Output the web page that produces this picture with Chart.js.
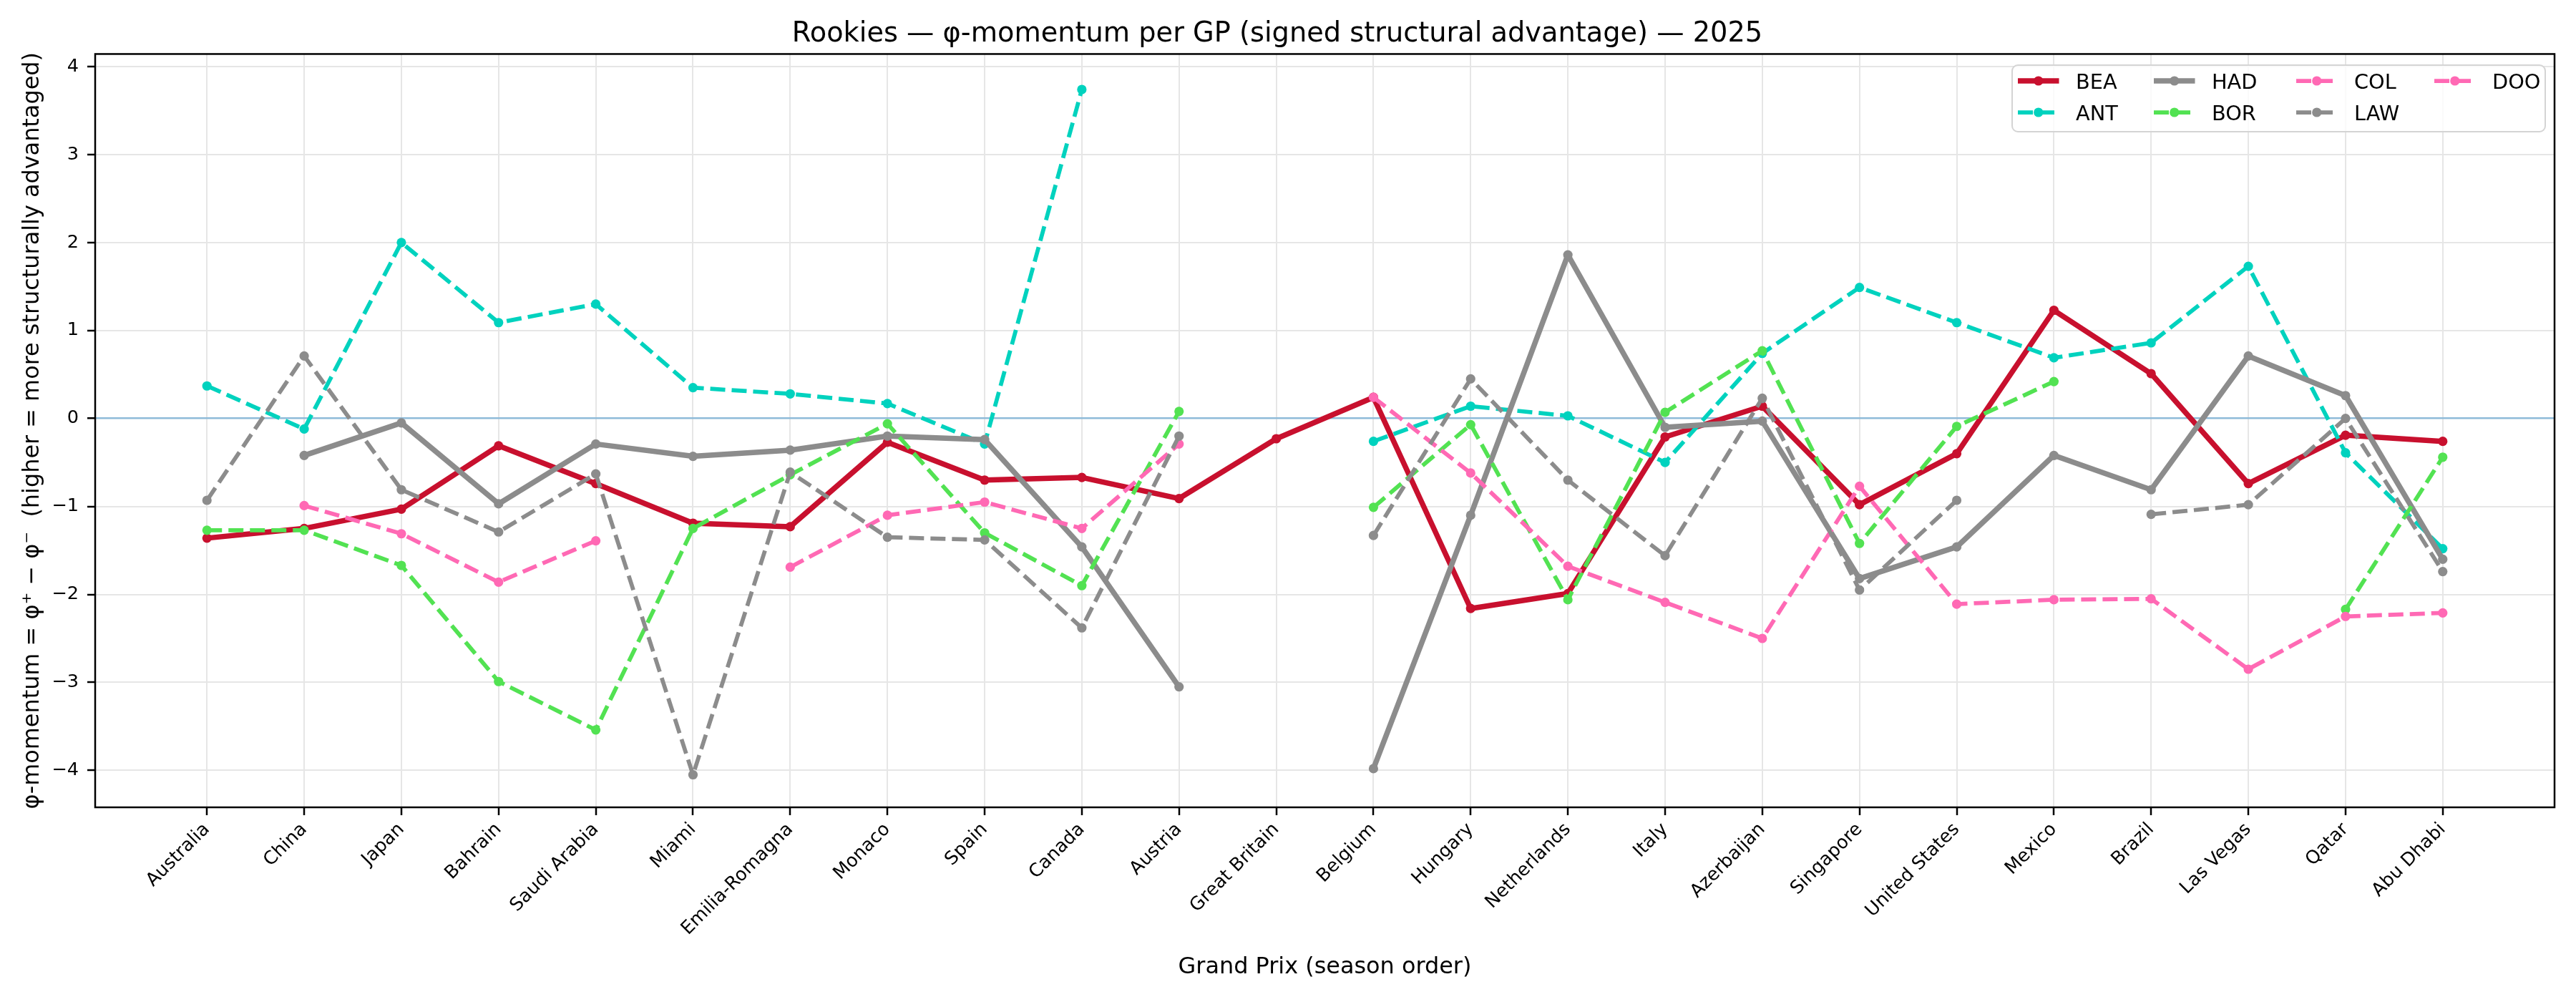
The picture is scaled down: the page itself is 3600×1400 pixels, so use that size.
<!DOCTYPE html>
<html>
<head>
<meta charset="utf-8">
<script src="https://cdn.jsdelivr.net/npm/chart.js@4.4.0/dist/chart.umd.min.js"></script>
<style>
  html, body { margin: 0; padding: 0; background: #fff; }
  #wrap { width: 3600px; height: 1400px; }
</style>
</head>
<body>
<div id="wrap"><canvas id="momentumChart" width="3600" height="1400"></canvas></div>
<script>
// Grands Prix, dans l'ordre de la saison
const grandsPrix = ["Australia", "China", "Japan", "Bahrain", "Saudi Arabia", "Miami",
  "Emilia-Romagna", "Monaco", "Spain", "Canada", "Austria", "Great Britain", "Belgium",
  "Hungary", "Netherlands", "Italy", "Azerbaijan", "Singapore", "United States", "Mexico",
  "Brazil", "Las Vegas", "Qatar", "Abu Dhabi"];

const pilotes = ["BEA", "ANT", "HAD", "BOR", "COL", "LAW", "DOO"];

// valeurs φ-momentum par GP (null = pas de course)
const BEA = [-1.36, -1.25, -1.03, -0.31, -0.74, -1.19, -1.23, -0.27, -0.70, -0.67, -0.91, -0.23,
  0.24, -2.16, -1.99, -0.21, 0.14, -0.98, -0.40, 1.23, 0.51, -0.74, -0.19, -0.26];
const ANT = [0.37, -0.12, 2.00, 1.09, 1.30, 0.35, 0.28, 0.17, -0.29, 3.74, null, null,
  -0.26, 0.14, 0.03, -0.50, 0.74, 1.49, 1.09, 0.69, 0.86, 1.73, -0.39, -1.48];
const HAD = [null, -0.42, -0.05, -0.97, -0.29, -0.43, -0.36, -0.20, -0.24, -1.46, -3.05, null,
  -3.98, -1.10, 1.86, -0.10, -0.03, -1.82, -1.46, -0.42, -0.81, 0.71, 0.26, -1.60];
const BOR = [-1.27, -1.27, -1.67, -2.99, -3.54, -1.25, -0.64, -0.06, -1.30, -1.90, 0.08, null,
  -1.01, -0.07, -2.06, 0.07, 0.77, -1.42, -0.09, 0.42, null, null, -2.17, -0.44];
const COL = [null, null, null, null, null, null, -1.69, -1.10, -0.95, -1.25, -0.29, null,
  0.24, -0.62, -1.68, -2.09, -2.50, -0.77, -2.11, -2.06, -2.05, -2.85, -2.25, -2.21];
const LAW = [-0.93, 0.71, -0.81, -1.29, -0.63, -4.05, -0.61, -1.35, -1.38, -2.38, -0.20, null,
  -1.33, 0.45, -0.70, -1.56, 0.23, -1.95, -0.93, null, -1.09, -0.98, 0.00, -1.74];
const DOO = [null, -0.99, -1.31, -1.86, -1.39, null, null, null, null, null, null, null,
  null, null, null, null, null, null, null, null, null, null, null, null];

const yTicks = [-4, -3, -2, -1, 0, 1, 2, 3, 4];

const valeurs = { BEA, ANT, HAD, BOR, COL, LAW, DOO };

const styles = {
  BEA: { couleur: "#c8102e", plein: true },
  ANT: { couleur: "#00d2be", plein: false },
  HAD: { couleur: "#8c8c8c", plein: true },
  BOR: { couleur: "#52e252", plein: false },
  COL: { couleur: "#ff69b4", plein: false },
  LAW: { couleur: "#8c8c8c", plein: false },
  DOO: { couleur: "#ff69b4", plein: false }
};

const POLICE = "'DejaVu Sans', sans-serif";

const datasets = pilotes.map((p, i) => {
  const st = styles[p];
  return {
    label: p,
    data: valeurs[p].map((v, k) => ({ x: k, y: v })),
    borderColor: st.couleur,
    backgroundColor: st.couleur,
    borderWidth: st.plein ? 7.5 : 5.75,
    borderDash: st.plein ? [] : [21, 9],
    borderJoinStyle: "round",
    pointRadius: 6.6,
    pointBorderWidth: 0,
    pointBackgroundColor: st.couleur,
    pointHoverRadius: 6.6,
    spanGaps: false,
    tension: 0,
    fill: false,
    order: pilotes.length - 1 - i
  };
});

// cadre + légende dans le coin haut droit
const cadrePlugin = {
  id: "cadre",
  afterDraw(chart) {
    const ctx = chart.ctx;
    const a = chart.chartArea;
    ctx.save();
    ctx.strokeStyle = "#000";
    ctx.lineWidth = 2.5;
    ctx.setLineDash([]);
    ctx.strokeRect(a.left, a.top, a.right - a.left, a.bottom - a.top);

    // boite de légende
    const bx = 2812, by = 91, bw = 745, bh = 93, r = 8;
    ctx.beginPath();
    ctx.moveTo(bx + r, by);
    ctx.arcTo(bx + bw, by, bx + bw, by + bh, r);
    ctx.arcTo(bx + bw, by + bh, bx, by + bh, r);
    ctx.arcTo(bx, by + bh, bx, by, r);
    ctx.arcTo(bx, by, bx + bw, by, r);
    ctx.closePath();
    ctx.fillStyle = "rgba(255,255,255,0.8)";
    ctx.fill();
    ctx.strokeStyle = "#d4d4d4";
    ctx.lineWidth = 2;
    ctx.stroke();

    const colonnes = [2820, 3010, 3209, 3402];
    const lignes = [113, 157];
    chart.data.datasets.forEach((ds, i) => {
      const x = colonnes[Math.floor(i / 2)];
      const y = lignes[i % 2];
      ctx.strokeStyle = ds.borderColor;
      ctx.lineWidth = ds.borderWidth;
      ctx.setLineDash(ds.borderDash);
      ctx.beginPath();
      ctx.moveTo(x, y);
      ctx.lineTo(x + 57.5, y);
      ctx.stroke();
      ctx.setLineDash([]);
      ctx.fillStyle = ds.borderColor;
      ctx.beginPath();
      ctx.arc(x + 28.75, y, 6.6, 0, Math.PI * 2);
      ctx.fill();
      ctx.fillStyle = "#000";
      ctx.font = "28.75px " + POLICE;
      ctx.textBaseline = "alphabetic";
      ctx.textAlign = "left";
      ctx.fillText(ds.label, x + 81, y + 10.5);
    });
    ctx.restore();
  }
};

const gris = "#e6e6e6";

new Chart(document.getElementById("momentumChart").getContext("2d"), {
  type: "line",
  data: { datasets },
  options: {
    responsive: false,
    devicePixelRatio: 1,
    animation: false,
    events: [],
    layout: { padding: { left: 0, right: 30, top: 0, bottom: 0 } },
    plugins: {
      legend: { display: false },
      tooltip: { enabled: false },
      title: {
        display: true,
        text: "Rookies \u2014 \u03c6-momentum per GP (signed structural advantage) \u2014 2025",
        color: "#000",
        font: { family: POLICE, size: 38.3, weight: "normal" },
        padding: { top: 25, bottom: 4.5 }
      }
    },
    scales: {
      x: {
        type: "linear",
        min: -1.15,
        max: 24.15,
        afterFit: (scale) => { scale.height = 272; },
        afterBuildTicks: (scale) => {
          scale.ticks = grandsPrix.map((g, k) => ({ value: k }));
        },
        ticks: {
          autoSkip: false,
          stepSize: 1,
          minRotation: 45,
          maxRotation: 45,
          padding: 5,
          color: "#000",
          font: { family: POLICE, size: 25.6 },
          callback: (v) => grandsPrix[v] ?? ""
        },
        grid: {
          color: gris,
          lineWidth: 2,
          drawTicks: true,
          tickLength: 11,
          tickColor: "#000",
          tickWidth: 2.5
        },
        border: { display: false },
        title: {
          display: true,
          text: "Grand Prix (season order)",
          color: "#000",
          font: { family: POLICE, size: 31.9 },
          padding: { top: 0, bottom: 29 }
        }
      },
      y: {
        type: "linear",
        min: -4.42,
        max: 4.143,
        afterFit: (scale) => { scale.width = 133; },
        afterBuildTicks: (scale) => {
          scale.ticks = yTicks.map(v => ({ value: v }));
        },
        ticks: {
          color: "#000",
          padding: 12,
          font: { family: POLICE, size: 25.6 },
          callback: (v) => v < 0 ? "\u2212" + Math.abs(v) : String(v)
        },
        grid: {
          color: (c) => (c.tick && c.tick.value === 0) ? "#8fbbd9" : gris,
          lineWidth: (c) => (c.tick && c.tick.value === 0) ? 2.5 : 2,
          drawTicks: true,
          tickLength: 11,
          tickColor: "#000",
          tickWidth: 2.5
        },
        border: { display: false },
        title: {
          display: true,
          text: "\u03c6-momentum = \u03c6\u207a \u2212 \u03c6\u207b  (higher = more structurally advantaged)",
          color: "#000",
          font: { family: POLICE, size: 31.9 },
          padding: { top: 27, bottom: 0 }
        }
      }
    }
  },
  plugins: [cadrePlugin]
});
</script>
</body>
</html>
